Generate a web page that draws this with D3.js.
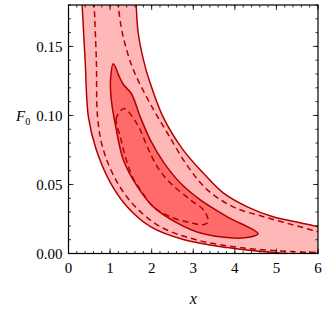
<!DOCTYPE html>
<html>
<head>
<meta charset="utf-8">
<script src="https://cdn.jsdelivr.net/npm/d3@7"></script>
<style>
  body { margin: 0; background: #fff; }
  svg { display: block; font-family: "Liberation Serif", "DejaVu Serif", serif; }
  .tick-label { font-size: 15px; fill: #000; }
</style>
</head>
<body>
<div id="chart"></div>
<script>
//////////////////////////////////////////////////////////////
////////////////////////// Data //////////////////////////////
//////////////////////////////////////////////////////////////

// outer (2 sigma) band, solid boundaries [x, F0]
var outerLeft = [
  [0.32, 0.19], [0.33, 0.179], [0.40, 0.14], [0.48, 0.0986], [0.67, 0.0749], [1.01, 0.0511],
  [1.41, 0.0338], [1.97, 0.0194], [2.76, 0.0101], [3.82, 0.0043],
  [4.92, 0.0007], [6.2, -0.002]
];
var outerRight = [
  [1.62, 0.19], [1.63, 0.179], [1.68, 0.159], [1.85, 0.1346], [1.97, 0.123], [2.28, 0.0986],
  [2.76, 0.0749], [3.24, 0.0583], [3.72, 0.0439], [4.30, 0.0338],
  [4.92, 0.0266], [5.57, 0.0223], [6.0, 0.0194], [6.2, 0.0185]
];

// outer dashed contour
var dashLeft = [
  [0.61, 0.19], [0.62, 0.179], [0.67, 0.14], [0.70, 0.0986], [0.84, 0.0749], [1.18, 0.0511],
  [1.61, 0.0338], [2.21, 0.0194], [3.05, 0.0101], [4.13, 0.0043],
  [5.33, 0.0014], [6.2, 0.0006]
];
var dashRight = [
  [1.18, 0.19], [1.20, 0.179], [1.30, 0.159], [1.54, 0.1346], [1.92, 0.111], [2.38, 0.0871],
  [2.88, 0.0626], [3.34, 0.0461], [3.96, 0.0338], [4.78, 0.0259],
  [5.57, 0.0194], [6.0, 0.0158], [6.2, 0.015]
];

// inner (1 sigma) region, solid, closed
var innerSolid = [
  [1.08, 0.1375], [1.20, 0.1296], [1.32, 0.1224], [1.51, 0.1159], [1.73, 0.0986],
  [1.97, 0.0821], [2.30, 0.0655], [2.69, 0.0511], [3.17, 0.0389], [3.82, 0.0266],
  [4.56, 0.0144], [4.37, 0.0119], [3.96, 0.0112], [3.17, 0.0148], [2.62, 0.0220],
  [2.04, 0.0338], [1.66, 0.0482], [1.32, 0.0677], [1.13, 0.0929], [1.03, 0.1109],
  [1.01, 0.1253]
];

// inner dashed contour, closed
var innerDash = [
  [1.34, 0.1051], [1.15, 0.0979], [1.25, 0.0842], [1.37, 0.0698], [1.54, 0.0554],
  [1.78, 0.0439], [2.04, 0.0338], [2.45, 0.0266], [2.93, 0.0223], [3.24, 0.0209],
  [3.36, 0.0230], [3.24, 0.0317], [2.93, 0.0389], [2.45, 0.0511], [2.14, 0.0626],
  [1.90, 0.0770], [1.73, 0.0893], [1.56, 0.0979]
];

var xTicks = [0, 1, 2, 3, 4, 5, 6];
var yTicks = [0, 0.05, 0.10, 0.15];

//////////////////////////////////////////////////////////////
////////////////////////// Setup /////////////////////////////
//////////////////////////////////////////////////////////////

var W = 325, H = 309;
var margin = { top: 5, right: 7, bottom: 55.5, left: 68.5 };
var width = W - margin.left - margin.right;
var height = H - margin.top - margin.bottom;

var lineColor = "#b20000";
var lightFill = "#ffb8b8";
var darkFill = "#ff6a6a";

var svg = d3.select("#chart").append("svg")
  .attr("width", W)
  .attr("height", H);

var g = svg.append("g")
  .attr("transform", "translate(" + margin.left + "," + margin.top + ")");

var x = d3.scaleLinear().domain([0, 6]).range([0, width]);
var y = d3.scaleLinear().domain([0, 0.18]).range([height, 0]);

svg.append("defs").append("clipPath").attr("id", "plot-clip")
  .append("rect").attr("width", width).attr("height", height);

var plot = g.append("g").attr("clip-path", "url(#plot-clip)");

var line = d3.line()
  .x(function(d) { return x(d[0]); })
  .y(function(d) { return y(d[1]); })
  .curve(d3.curveCatmullRom);

var closedLine = d3.line()
  .x(function(d) { return x(d[0]); })
  .y(function(d) { return y(d[1]); })
  .curve(d3.curveCatmullRomClosed);

//////////////////////////////////////////////////////////////
////////////////////////// Regions ///////////////////////////
//////////////////////////////////////////////////////////////

// light band: left boundary down, right boundary back up
var bandPath = line(outerLeft) + "L" + line(outerRight.slice().reverse()).slice(1) + "Z";

plot.append("path")
  .attr("d", bandPath)
  .style("fill", lightFill)
  .style("stroke", "none");

plot.selectAll(".outer-line")
  .data([outerLeft, outerRight])
  .enter().append("path")
  .attr("class", "outer-line")
  .attr("d", line)
  .style("fill", "none")
  .style("stroke", lineColor)
  .style("stroke-width", 1.5);

plot.selectAll(".dash-line")
  .data([dashLeft, dashRight])
  .enter().append("path")
  .attr("class", "dash-line")
  .attr("d", line)
  .style("fill", "none")
  .style("stroke", lineColor)
  .style("stroke-width", 1.5)
  .style("stroke-dasharray", "6 4");

plot.append("path")
  .attr("d", closedLine(innerSolid))
  .style("fill", darkFill)
  .style("stroke", lineColor)
  .style("stroke-width", 1.5);

plot.append("path")
  .attr("d", closedLine(innerDash))
  .style("fill", "none")
  .style("stroke", lineColor)
  .style("stroke-width", 1.5)
  .style("stroke-dasharray", "6 4");

//////////////////////////////////////////////////////////////
////////////////////////// Axes //////////////////////////////
//////////////////////////////////////////////////////////////

var xMinor = d3.range(0, 6.001, 0.2);
var yMinor = d3.range(0, 0.1801, 0.01);

function tickLines(cls, data, pos, horizontal, len, atStart) {
  g.selectAll("." + cls)
    .data(data)
    .enter().append("line")
    .attr("class", cls)
    .attr("x1", function(d) { return horizontal ? pos(d) : (atStart ? 0 : width); })
    .attr("x2", function(d) { return horizontal ? pos(d) : (atStart ? len : width - len); })
    .attr("y1", function(d) { return horizontal ? (atStart ? height : 0) : pos(d); })
    .attr("y2", function(d) { return horizontal ? (atStart ? height - len : len) : pos(d); })
    .style("stroke", "#000")
    .style("stroke-width", 0.8);
}

tickLines("xmin-b", xMinor, x, true, 2.5, true);
tickLines("xmin-t", xMinor, x, true, 2.5, false);
tickLines("xmaj-b", xTicks, x, true, 5, true);
tickLines("xmaj-t", xTicks, x, true, 5, false);
tickLines("ymin-l", yMinor, y, false, 2.5, true);
tickLines("ymin-r", yMinor, y, false, 2.5, false);
tickLines("ymaj-l", yTicks, y, false, 5, true);
tickLines("ymaj-r", yTicks, y, false, 5, false);

g.append("rect")
  .attr("width", width)
  .attr("height", height)
  .style("fill", "none")
  .style("stroke", "#000")
  .style("stroke-width", 1.2);

g.selectAll(".x-label")
  .data(xTicks)
  .enter().append("text")
  .attr("class", "tick-label x-label")
  .attr("x", function(d) { return x(d); })
  .attr("y", height + 19)
  .style("text-anchor", "middle")
  .text(function(d) { return d; });

g.selectAll(".y-label")
  .data(yTicks)
  .enter().append("text")
  .attr("class", "tick-label y-label")
  .attr("x", -6)
  .attr("y", function(d) { return y(d); })
  .attr("dy", "0.35em")
  .style("text-anchor", "end")
  .text(function(d) { return d.toFixed(2); });

// axis titles
svg.append("text")
  .attr("x", margin.left + width / 2)
  .attr("y", 304)
  .style("font-size", "16px")
  .style("font-style", "italic")
  .style("text-anchor", "middle")
  .text("x");

var yTitle = svg.append("text")
  .attr("x", 16)
  .attr("y", 121)
  .style("font-size", "15px");
yTitle.append("tspan").style("font-style", "italic").text("F");
yTitle.append("tspan").attr("dy", 4).style("font-size", "10px").text("0");
</script>
</body>
</html>
